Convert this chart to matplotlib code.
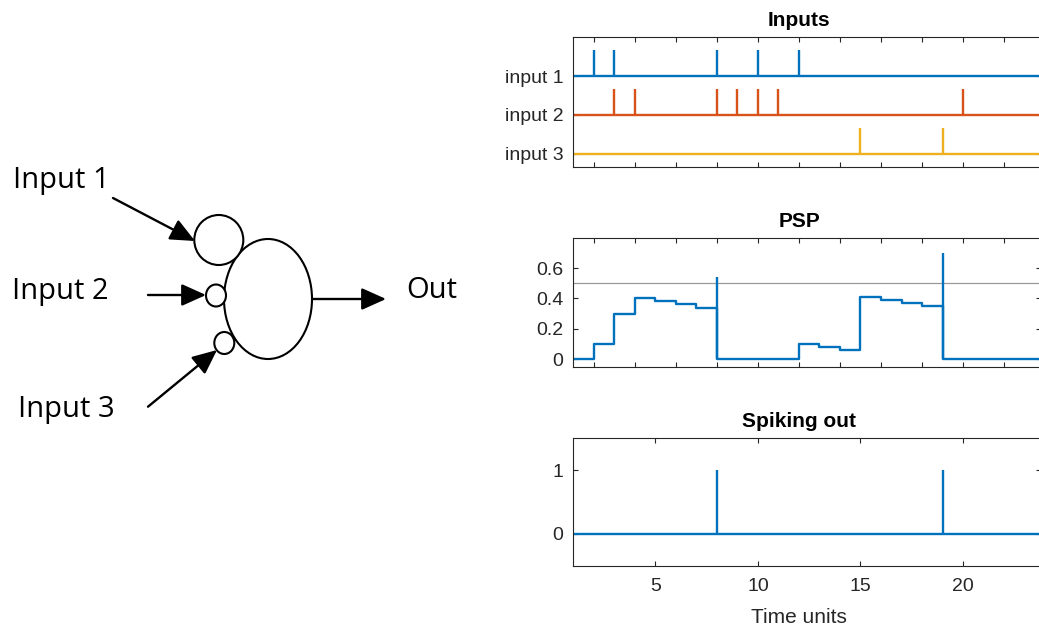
import numpy as np
import matplotlib.pyplot as plt
from matplotlib.patches import Ellipse

plt.rcParams['font.family'] = ['Liberation Sans', 'DejaVu Sans']

# spike trains of the three inputs (time units)
input1_spikes = [2, 3, 8, 10, 12]
input2_spikes = [3, 4, 8, 9, 10, 11, 20]
input3_spikes = [15, 19]
input_labels = ['input 1', 'input 2', 'input 3']
input_offsets = [0, -1.5, -3]

# membrane potential, one value per time unit starting at t = 1
time = np.arange(1, 25)
psp = [0, 0.1, 0.3, 0.4, 0.38, 0.36, 0.34, 0, 0, 0, 0, 0.1,
       0.08, 0.06, 0.41, 0.39, 0.37, 0.35, 0, 0, 0, 0, 0, 0]
threshold = 0.5

# output spikes and the potential reached when they fire
out_spikes = [8, 19]
psp_peaks = [0.54, 0.70]

colors = ['#0072BD', '#D95319', '#EDB120']
axis_col = '#262626'
lw = 1.7
W, H = 1039, 632

fig = plt.figure(figsize=(W / 100, H / 100), dpi=100)

# neuron sketch, drawn in pixel units
dg = fig.add_axes([0, 0, 1, 1], zorder=0)
dg.set_xlim(0, W)
dg.set_ylim(H, 0)
dg.axis('off')

dg.add_patch(Ellipse((268, 299), 88, 120, fc='white', ec='black', lw=1.5))
dg.add_patch(Ellipse((218.8, 240), 49, 50, fc='white', ec='black', lw=1.5))
dg.add_patch(Ellipse((216, 295.5), 20, 22, fc='white', ec='black', lw=1.5))
dg.add_patch(Ellipse((224.3, 343), 20, 22, fc='white', ec='black', lw=1.5))

arrows = [((113, 198), (195, 241)),
          ((148, 295), (206, 295)),
          ((148, 406.7), (217, 350)),
          ((312.3, 299), (386, 299))]
for start, tip in arrows:
    dg.annotate('', xy=tip, xytext=start,
                arrowprops=dict(arrowstyle='-|>,head_length=1.0,head_width=0.45',
                                mutation_scale=15, lw=1.7, color='black',
                                shrinkA=0, shrinkB=0))

for label, (x, y) in zip(['Input 1', 'Input 2', 'Input 3', 'Out'],
                         [(12.7, 188.3), (11.7, 299.5), (18.3, 416.5), (406.7, 298.3)]):
    dg.text(x, y, label, fontsize=21, family=['Open Sans', 'DejaVu Sans'],
            ha='left', va='baseline', color='black')


def panel(top, bottom):
    left, right = 573.3, 1041
    ax = fig.add_axes([left / W, 1 - bottom / H, (right - left) / W, (bottom - top) / H],
                      zorder=1)
    ax.tick_params(direction='in', top=True, right=True, length=3.5, width=0.8,
                   colors=axis_col, labelsize=14, pad=7)
    for s in ax.spines.values():
        s.set_linewidth(0.8)
        s.set_color(axis_col)
    ax.set_xlim(1, 23.8)
    return ax


def title(ax, text):
    ax.set_title(text, fontsize=15, fontweight='bold', pad=8, color='black')
    ax.title.set_x(0.4826)


# inputs
ax1 = panel(37.3, 166.7)
for spikes, off, c in zip([input1_spikes, input2_spikes, input3_spikes], input_offsets, colors):
    ax1.plot([1, 24], [off, off], color=c, lw=lw)
    ax1.vlines(spikes, off, off + 1, color=c, lw=lw)
ax1.set_ylim(-3.5, 1.5)
ax1.set_yticks(input_offsets)
ax1.set_yticklabels(input_labels)
ax1.set_xticks(np.arange(2, 23, 2))
ax1.set_xticklabels([])
title(ax1, 'Inputs')

# post-synaptic potential
ax2 = panel(237.7, 366.7)
ax2.axhline(threshold, color='#999999', lw=0.9)
ax2.step(time, psp, where='post', color=colors[0], lw=lw)
ax2.vlines(out_spikes, 0, psp_peaks, color=colors[0], lw=lw)
ax2.set_ylim(-0.05, 0.8)
ax2.set_yticks([0, 0.2, 0.4, 0.6])
ax2.set_yticklabels(['0', '0.2', '0.4', '0.6'])
ax2.set_xticks(np.arange(2, 23, 2))
ax2.set_xticklabels([])
title(ax2, 'PSP')

# output spikes
ax3 = panel(438.3, 565.7)
ax3.plot([1, 24], [0, 0], color=colors[0], lw=lw)
ax3.vlines(out_spikes, 0, 1, color=colors[0], lw=lw)
ax3.set_ylim(-0.5, 1.5)
ax3.set_yticks([0, 1])
ax3.set_xticks([5, 10, 15, 20])
ax3.tick_params(axis='x', pad=9)
ax3.set_xlabel('Time units', fontsize=15, color=axis_col)
ax3.xaxis.set_label_coords(0.4826, -0.33)
title(ax3, 'Spiking out')

fig.savefig('out.png', dpi=100)
